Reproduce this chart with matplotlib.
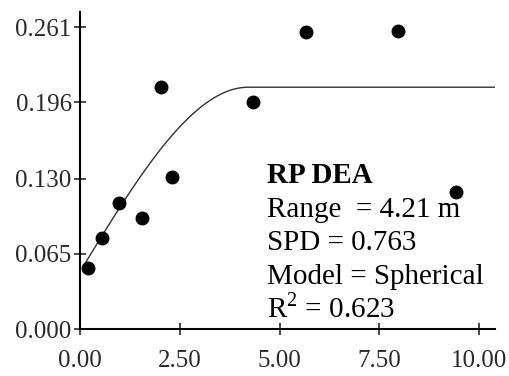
import numpy as np
import matplotlib
matplotlib.use("Agg")
import matplotlib.pyplot as plt

plt.rcParams['font.family'] = ['Liberation Serif', 'DejaVu Serif']
plt.rcParams['mathtext.fontset'] = 'custom'
plt.rcParams['mathtext.rm'] = 'Liberation Serif'

# lag distance (m) and semivariance
lag = [0.20, 0.55, 0.97, 1.55, 2.02, 2.30, 4.32, 5.67, 7.97, 9.42]
gamma = [0.053, 0.079, 0.109, 0.096, 0.209, 0.131, 0.196, 0.257, 0.258, 0.118]

# spherical model: nugget, sill, range
nugget = 0.0496
sill = 0.209
model_range = 4.21

xticks = [0.0, 2.5, 5.0, 7.5, 10.0]
yticks = [0.000, 0.065, 0.130, 0.196, 0.261]

fig = plt.figure(figsize=(5.1, 3.76), dpi=100)
ax = fig.add_axes([0.157, 0.125, 0.814, 0.843])

h = np.linspace(0.1, 10.4, 300)
r = np.minimum(h / model_range, 1.0)
g = nugget + (sill - nugget) * (1.5 * r - 0.5 * r ** 3)
ax.plot(h, g, color='#333333', lw=1.0)
ax.plot(lag, gamma, 'o', color='black', ms=9)

ax.set_xlim(0, 10.4)
ax.set_ylim(0, 0.274)
ax.set_xticks(xticks)
ax.set_xticklabels(["%.2f" % v for v in xticks])
ax.set_yticks(yticks)
ax.set_yticklabels(["%.3f" % v for v in yticks])
for s in ['top', 'right']:
    ax.spines[s].set_visible(False)
for s in ['left', 'bottom']:
    ax.spines[s].set_linewidth(1.5)
ax.tick_params(direction='inout', length=8, width=1.2, labelsize=18, colors='#2a2a2a', pad=2)
ax.tick_params(axis='x', pad=11)

tx = 4.68
fs = 21
ax.text(tx, 0.1258, "RP DEA", fontsize=fs, fontweight='bold', va='baseline')
ax.text(tx, 0.0965, "Range  = 4.21 m", fontsize=fs, va='baseline')
ax.text(tx, 0.0680, "SPD = 0.763", fontsize=fs, va='baseline')
ax.text(tx, 0.0387, "Model = Spherical", fontsize=fs, va='baseline')
ax.text(tx, 0.0103, "R$^{2}$ = 0.623", fontsize=fs, va='baseline')

fig.savefig("out.png", dpi=100)
